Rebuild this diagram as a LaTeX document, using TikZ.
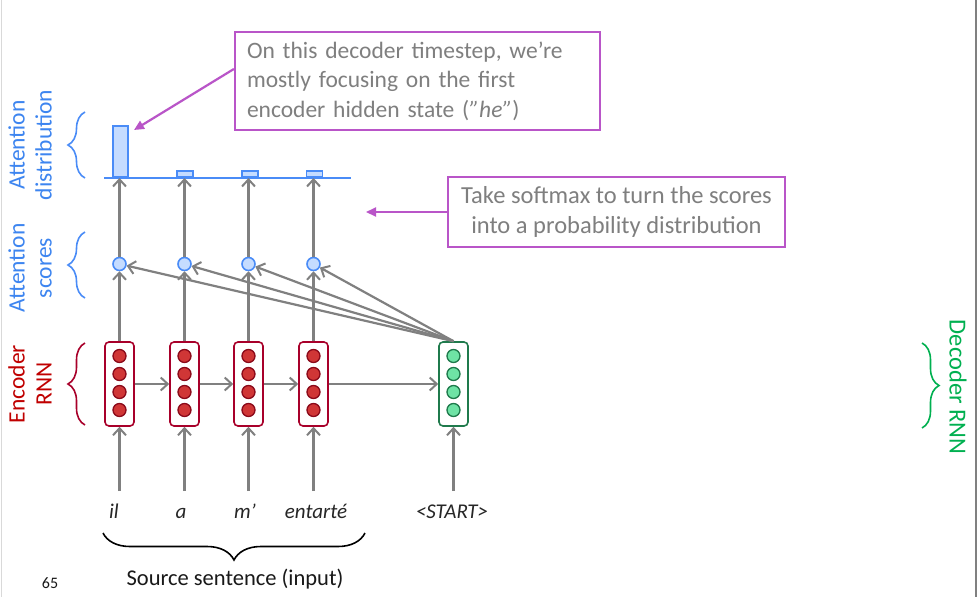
\documentclass[tikz,border=0pt]{standalone}
\usepackage{fontspec}
\setmainfont{Carlito}
\usetikzlibrary{arrows.meta,decorations.pathreplacing,calc}
\definecolor{pur}{HTML}{B955C8}
\definecolor{bl}{HTML}{4A8CF7}
\definecolor{blfill}{HTML}{C5DCFF}
\definecolor{bltext}{HTML}{3D85F0}
\definecolor{gr}{HTML}{808080}
\definecolor{graytext}{HTML}{7F7F7F}
\definecolor{encbox}{HTML}{A8002A}
\definecolor{encfill}{HTML}{D03636}
\definecolor{encline}{HTML}{8B0A1A}
\definecolor{decbox}{HTML}{1F7A4C}
\definecolor{decfill}{HTML}{6EE3A5}
\definecolor{redtext}{HTML}{C00000}
\definecolor{greentext}{HTML}{00B050}
\tikzset{
  garrow/.style={draw=gr, line width=2.2pt, -{Straight Barb[length=7pt,width=13pt,line width=2pt]}},
  parrow/.style={draw=pur, line width=2.2pt, -{Triangle[length=10pt,width=9pt]}},
  encrnn/.style={draw=encbox, line width=1.6pt, rounded corners=4pt, fill=white, minimum width=29pt, minimum height=84pt, inner sep=0pt},
  decrnn/.style={draw=decbox, line width=1.6pt, rounded corners=4pt, fill=white, minimum width=29pt, minimum height=84pt, inner sep=0pt},
  encdot/.style={circle, draw=encline, fill=encfill, line width=1.3pt, minimum size=13pt, inner sep=0pt},
  decdot/.style={circle, draw=decbox, fill=decfill, line width=1.3pt, minimum size=13pt, inner sep=0pt},
  score/.style={circle, draw=bl, fill=blfill, line width=1.6pt, minimum size=13pt, inner sep=0pt},
  bar/.style={draw=bl, fill=blfill, line width=1.6pt, inner sep=0pt, anchor=south},
  callout/.style={draw=pur, line width=2.2pt, fill=white, text=graytext, inner sep=0pt},
  sidelabel/.style={align=center, font=\fontsize{23.5}{27}\selectfont},
  word/.style={font=\fontsize{21}{24}\selectfont\itshape, text=black!85, anchor=base},
  bracestyle/.style={decorate, line width=1.6pt},
}
\begin{document}
\begin{tikzpicture}[x=1pt,y=-1pt]
\useasboundingbox (0,0) rectangle (977,597);
\fill[white] (0,0) rectangle (977,597);
\draw[black!15, line width=1pt] (1,0) -- (1,597);
\draw[gr, line width=1.5pt] (976,0) -- (976,597);

% encoder / decoder boxes
\foreach \i/\x in {1/119.5,2/184.5,3/248.5,4/313.5}{
  \node[encrnn] (e\i) at (\x,384) {};
  \foreach \k/\yy in {1/356,2/374,3/392,4/410}
    \node[encdot] (e\i d\k) at (\x,\yy) {};
}
\node[decrnn] (d) at (453.5,384) {};
\foreach \k/\yy in {1/356,2/374,3/392,4/410}
  \node[decdot] (dd\k) at (453.5,\yy) {};

% score circles
\foreach \i/\x in {1/119.5,2/184.5,3/248.5,4/313.5}
  \node[score] (s\i) at (\x,264) {};

% baseline and bars
\coordinate (bl0) at (104,178);
\coordinate (bl1) at (351,178);
\node[bar, minimum width=15pt, minimum height=51pt] (b1) at (120.5,178) {};
\node[bar, minimum width=16pt, minimum height=6pt] (b2) at (185,178) {};
\node[bar, minimum width=16pt, minimum height=6pt] (b3) at (250,178) {};
\node[bar, minimum width=16pt, minimum height=6pt] (b4) at (314.5,178) {};
\draw[bl, line width=2pt] (bl0) -- (bl1);

% arrows encoder -> score -> distribution
\foreach \i in {1,2,3,4}{
  \draw[garrow] (e\i.north) -- (s\i.south);
  \draw[garrow] (s\i.north) -- (s\i.north |- bl0);
}
% decoder -> scores
\foreach \i in {1,2,3,4}
  \draw[garrow] (d.north) -- (s\i);

% horizontal RNN arrows
\draw[garrow] (e1.east) -- (e2.west);
\draw[garrow] (e2.east) -- (e3.west);
\draw[garrow] (e3.east) -- (e4.west);
\draw[garrow] (e4.east) -- (d.west);

% input words and arrows
\node[word] (w1) at (114,518) {il};
\node[word] (w2) at (181,518) {a};
\node[word] (w3) at (245,518) {m’};
\node[word] (w4) at (316,518) {entarté};
\node[word] (w5) at (452,518) {<START>};
\foreach \i/\x in {1/119.5,2/184.5,3/248.5,4/313.5}{
  \coordinate (in\i) at (\x,491);
  \draw[garrow] (in\i) -- (e\i.south);
}
\coordinate (in5) at (453.5,491);
\draw[garrow] (in5) -- (d.south);

% bottom brace
\draw[bracestyle, decoration={brace, amplitude=27pt}] (365,533) -- (103,533);
\node[font=\fontsize{22.5}{26}\selectfont, text=black!90] (src) at (235,579) {Source sentence (input)};
\node[font=\fontsize{16}{18}\selectfont, text=black!90] (pg) at (50,583) {65};

% side labels and braces
\node[sidelabel, text=bltext, rotate=90] (lab1) at (30,145) {Attention\\distribution};
\node[sidelabel, text=bltext, rotate=90] (lab2) at (30,268) {Attention\\scores};
\node[sidelabel, text=redtext, rotate=90] (lab3) at (30,384) {Encoder\\RNN};
\node[sidelabel, text=greentext, rotate=-90, font=\fontsize{24.5}{27}\selectfont] (lab4) at (958,387) {Decoder RNN};
\draw[bracestyle, draw=bl, decoration={brace, amplitude=17pt}] (85,178) -- (85,112);
\draw[bracestyle, draw=bl, decoration={brace, amplitude=17pt}] (85,298) -- (85,232);
\draw[bracestyle, draw=encbox, decoration={brace, amplitude=17pt}] (85,425) -- (85,343);
\draw[bracestyle, draw=greentext, decoration={brace, amplitude=17pt}] (922,343) -- (922,428);

% callouts
\node[callout, font=\fontsize{23.5}{29.5}\selectfont, minimum width=365pt, minimum height=98pt, text width=341pt, align=left] (c1) at (417.5,81)
  {On this decoder timestep, we’re\\mostly focusing on the first\\encoder hidden state (\textit{”he”})};
\node[callout, font=\fontsize{24.5}{30}\selectfont, minimum width=337pt, minimum height=70pt, align=center] (c2) at (616.5,212)
  {Take softmax to turn the scores\\into a probability distribution};
\coordinate (p1) at (134,130);
\coordinate (p2) at (366,212);
\draw[parrow] ($(c1.north west)!0.38!(c1.south west)$) -- (p1);
\draw[parrow] (c2.west) -- (p2);
\end{tikzpicture}
\end{document}
